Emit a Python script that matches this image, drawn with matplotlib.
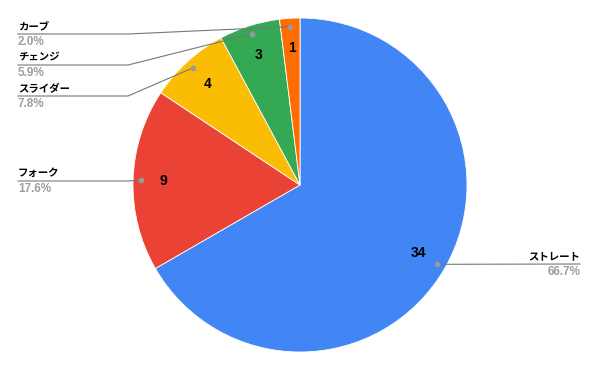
import numpy as np
import matplotlib.pyplot as plt

plt.rcParams['font.family'] = ['Liberation Sans', 'Noto Sans CJK JP', 'DejaVu Sans']

# pitch types and counts
pitches = ['ストレート', 'フォーク', 'スライダー', 'チェンジ', 'カーブ']
counts = [34, 9, 4, 3, 1]
colors = ['#4285F4', '#EA4335', '#FBBC04', '#34A853', '#FF6D01']
total = sum(counts)

W, H = 600, 371
fig = plt.figure(figsize=(6, 3.71), dpi=100)
ax = fig.add_axes([0, 0, 1, 1])

cx, cy, r = 300, H - 185, 167
wedges, _, autotexts = ax.pie(
    counts, colors=colors, startangle=90, counterclock=False,
    center=(cx, cy), radius=r, frame=True,
    autopct=lambda p: f"{round(p * total / 100)}", pctdistance=0.82,
    wedgeprops=dict(edgecolor='white', linewidth=0.6),
    textprops=dict(fontsize=10, fontweight='bold', color='black'))
ax.set_xlim(0, W)
ax.set_ylim(0, H)
ax.set_aspect('equal')
ax.axis('off')

# label line heights (pixels from top)
label_y = {'ストレート': 264, 'フォーク': 181, 'スライダー': 96, 'チェンジ': 65, 'カーブ': 34}
line_col = '#777777'
for w, name, n in zip(wedges, pitches, counts):
    mid = np.deg2rad((w.theta1 + w.theta2) / 2)
    dx, dy = cx + 0.95 * r * np.cos(mid), cy + 0.95 * r * np.sin(mid)
    ax.plot(dx, dy, 'o', ms=3, color='#999999', zorder=5)
    ly = H - label_y[name]
    pct = f"{n / total * 100:.1f}%"
    if dx > cx:
        ax.plot([dx, 580], [dy, ly], color=line_col, lw=0.8)
        x0, ha = 580, 'right'
    else:
        ax.plot([18, 128, dx], [ly, ly, dy], color=line_col, lw=0.8)
        x0, ha = 18, 'left'
    ax.text(x0, ly + 3, name, ha=ha, va='bottom', fontsize=7.5, fontweight='bold')
    ax.text(x0, ly - 2, pct, ha=ha, va='top', fontsize=8.5, fontweight='bold', color='#9e9e9e')

fig.savefig('out.png', dpi=100)
